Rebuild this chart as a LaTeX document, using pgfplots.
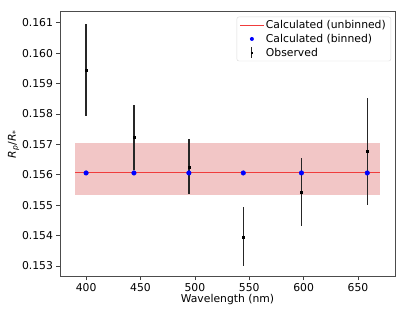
\documentclass[border=0pt]{standalone}
\usepackage{pgfplots}
\pgfplotsset{compat=1.18}
\usepackage{fontspec}
\setmainfont{DejaVu Sans}
\definecolor{bandred}{RGB}{242,198,198}
\definecolor{linered}{RGB}{240,60,60}
\begin{document}
\begin{tikzpicture}
\begin{axis}[
  at={(0,0)}, anchor=south west,
  scale only axis, width=335pt, height=265pt,
  xmin=376, xmax=684, ymin=0.15265, ymax=0.16136,
  xtick={400,450,500,550,600,650},
  ytick={0.153,0.154,0.155,0.156,0.157,0.158,0.159,0.160,0.161},
  yticklabels={0.153,0.154,0.155,0.156,0.157,0.158,0.159,0.160,0.161},
  xtick pos=left, ytick pos=left,
  tick align=outside, major tick length=3.5pt,
  every tick/.style={black!75, line width=0.7pt},
  axis line style={black!70, line width=0.8pt},
  /pgf/number format/assume math mode=true,
  tick label style={font=\fontsize{10.8}{13}\selectfont},
  xlabel={Wavelength (nm)},
  ylabel={\textit{R}\textsubscript{\textit{p}}/\textit{R}\textsubscript{*}},
  label style={font=\fontsize{10.8}{13}\selectfont},
  xlabel style={yshift=4pt},
  ylabel style={yshift=-4pt},
  legend style={at={(1,1)}, anchor=north east, xshift=-4pt, yshift=-5pt,
    draw=black!15, rounded corners=2pt, fill=white, fill opacity=0.8, text opacity=1,
    font=\fontsize{10.8}{13}\selectfont, inner xsep=3pt, inner ysep=1.5pt, row sep=0pt},
  legend cell align=left,
]
% band
\addplot[draw=none, fill=bandred, forget plot] coordinates {(390,0.15533) (670,0.15533) (670,0.15705) (390,0.15705)} -- cycle;
% unbinned line
\addplot[linered, line width=1pt, forget plot]
  coordinates {(390,0.15606) (670,0.15606)};
% binned
\addplot[only marks, mark=*, mark size=2.3pt, blue, mark options={draw=blue, fill=blue}, forget plot]
  coordinates {(400,0.15606) (444,0.15606) (494.5,0.15606) (544.5,0.15606) (598,0.15606) (658.5,0.15606)};
% observed
\addplot[only marks, mark=square*, mark size=0.9pt, black, forget plot,
  error bars/.cd, y dir=both, y explicit,
  error bar style={line width=1.4pt, black!85}, error mark=none]
  coordinates {
    (400,0.15945) +- (0,0.00152)
    (444,0.15723) +- (0,0.00106)
    (494.5,0.15626) +- (0,0.00090)
    (544.5,0.15396) +- (0,0.00097)
    (598,0.15543) +- (0,0.00111)
    (658.5,0.15677) +- (0,0.00177)
  };
\addlegendimage{legend image code/.code={\path[draw=none, fill=linered, fill opacity=1, sharp corners] (0pt,-0.55pt) rectangle (24pt,0.55pt);}}
\addlegendentry{Calculated (unbinned)}
\addlegendimage{legend image code/.code={\path[draw=none, fill=blue, fill opacity=1] (12pt,0pt) circle (2pt);}}
\addlegendentry{Calculated (binned)}
\addlegendimage{legend image code/.code={\path[draw=none, fill=black!85, fill opacity=1, sharp corners] (11.45pt,-5.5pt) rectangle (12.55pt,5.5pt); \path[draw=none, fill=black, fill opacity=1, sharp corners] (11pt,-1pt) rectangle (13pt,1pt);}}
\addlegendentry{Observed}
\end{axis}
\pgfresetboundingbox
\path[use as bounding box] (-60pt,-40.3pt) rectangle (347pt,276.7pt);
\end{tikzpicture}
\end{document}
